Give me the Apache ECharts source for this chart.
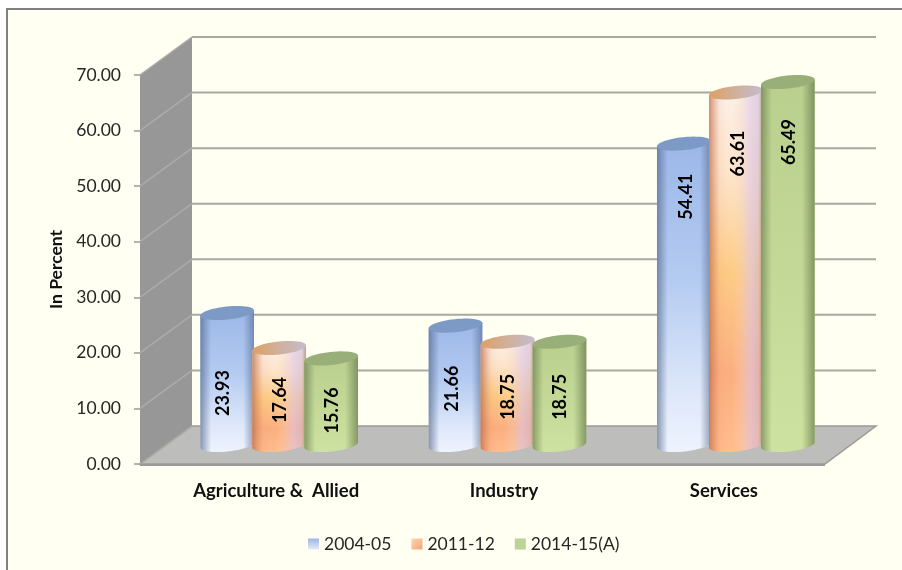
<!DOCTYPE html>
<html>
<head>
<meta charset="utf-8">
<style>html,body{margin:0;padding:0;background:#fff;overflow:hidden}#c{width:902px;height:570px}</style>
<script src="https://cdn.jsdelivr.net/npm/echarts@6/dist/echarts.min.js"></script>
</head>
<body>
<div id="c"></div>
<script>
const categories = ['Agriculture &  Allied', 'Industry', 'Services'];
const seriesNames = ['2004-05', '2011-12', '2014-15(A)'];
const values2004 = [23.93, 21.66, 54.41];
const values2011 = [17.64, 18.75, 63.61];
const values2015 = [15.76, 18.75, 65.49];
const yTicks = [0, 10, 20, 30, 40, 50, 60, 70];

// Styling of the pseudo-3D scene
const FONT = 'Lato, "Open Sans", sans-serif';
const DEPTH_X = 52, DEPTH_Y = 38, BAR_STEP = 52, RX = 27, RY = 6.5, TILT = -6 * Math.PI / 180;
const labelDrop = [[80, 63, 53], [52, 55, 61], [52, 55, 60]];
const labelShiftX = [[-4, -3, 2], [1, 1, 2], [1, 1, 1]];
const G = (x, y, x2, y2, stops) => new echarts.graphic.LinearGradient(x, y, x2, y2, stops.map(c => ({offset: c[0], color: c[1]})));
const looks = [
  { body: () => G(0, 0, 0, 1, [[0, '#9CB7E8'], [0.45, '#B4CBF1'], [0.8, '#DDE7FA'], [1, '#EEF3FD']]),
    shade: () => G(0, 0, 1, 0, [[0, 'rgba(75,95,130,0.62)'], [0.2, 'rgba(75,95,130,0)'], [0.8, 'rgba(75,95,130,0)'], [1, 'rgba(75,95,130,0.55)']]),
    top: () => '#7D9AC7',
    swatch: () => G(0, 0, 0, 1, [[0, '#9DB6E4'], [1, '#E3EAF8']]) },
  { body: () => G(0, 0, 0, 1, [[0, '#FDF1EA'], [0.25, '#FDE3C8'], [0.5, '#FDCB85'], [0.78, '#FBAE80'], [1, '#FFBC8C']]),
    shade: () => G(0, 0, 1, 0, [[0, 'rgba(185,105,70,0.72)'], [0.2, 'rgba(220,130,90,0.08)'], [0.42, 'rgba(255,220,170,0)'], [0.78, 'rgba(218,196,238,0.6)'], [0.92, 'rgba(205,185,210,0.55)'], [1, 'rgba(165,130,105,0.75)']]),
    top: () => G(0, 0, 1, 0, [[0, '#DDA066'], [0.5, '#D0B09C'], [1, '#C4BCCC']]),
    swatch: () => G(0, 0, 1, 1, [[0, '#FBD6B8'], [1, '#F3A470']]) },
  { body: () => G(0, 0, 0, 1, [[0, '#B9CF8E'], [0.5, '#C3D897'], [1, '#CDE2A0']]),
    shade: () => G(0, 0, 1, 0, [[0, 'rgba(95,115,70,0.62)'], [0.2, 'rgba(95,115,70,0)'], [0.76, 'rgba(95,115,70,0)'], [1, 'rgba(95,115,70,0.65)']]),
    top: () => '#99AF79',
    swatch: () => '#BDD397' }
];

function ellipse(cx, cy, from, to, n) {
  const pts = [];
  for (let i = 0; i <= n; i++) {
    const t = from + (to - from) * i / n;
    const ex = RX * Math.cos(t), ey = RY * Math.sin(t);
    pts.push([cx + ex * Math.cos(TILT) - ey * Math.sin(TILT), cy + ex * Math.sin(TILT) + ey * Math.cos(TILT)]);
  }
  return pts;
}

function renderBar(seriesIndex) {
  return function (params, api) {
    const idx = api.value(0), val = api.value(1);
    const base = api.coord([idx, 0]);
    const top = api.coord([idx, val]);
    const cx = base[0] + DEPTH_X / 2 - 1 + (seriesIndex - 1) * BAR_STEP;
    const yBase = base[1] - DEPTH_Y / 2;
    const yTop = top[1] - DEPTH_Y / 2 + 1;
    const topRing = ellipse(cx, yTop, Math.PI, 0, 1);
    const body = [topRing[0]].concat(ellipse(cx, yBase, Math.PI, 0, 32)).concat([topRing[1]]);
    const look = looks[seriesIndex];
    return {
      type: 'group',
      children: [
        { type: 'polygon', shape: { points: body }, style: { fill: look.body() } },
        { type: 'polygon', shape: { points: body }, style: { fill: look.shade() } },
        { type: 'polygon', shape: { points: ellipse(cx, yTop, 0, Math.PI * 2, 48) }, style: { fill: look.top() } },
        { type: 'text', x: cx + labelShiftX[seriesIndex][idx], y: yTop + labelDrop[seriesIndex][idx], rotation: Math.PI / 2,
          style: { text: val.toFixed(2), font: 'bold 18px ' + FONT, fill: '#000', align: 'center', verticalAlign: 'middle' } }
      ]
    };
  };
}

function renderScene(params, api) {
  const cs = params.coordSys;
  const left = cs.x, right = cs.x + cs.width;
  const y0 = api.coord([0, 0])[1];
  const yMax = api.coord([0, yTicks[yTicks.length - 1]])[1];
  const children = [
    { type: 'polygon', shape: { points: [[left, y0], [left, yMax], [left + DEPTH_X, yMax - DEPTH_Y], [left + DEPTH_X, y0 - DEPTH_Y]] },
      style: { fill: '#979797' } },
    { type: 'polygon', shape: { points: [[left, y0], [right, y0], [right + DEPTH_X - 1, y0 - DEPTH_Y], [left + DEPTH_X, y0 - DEPTH_Y]] },
      style: { fill: '#BDBDBB', stroke: '#9A9A96', lineWidth: 1.5 } },
    { type: 'line', shape: { x1: left, y1: y0 + 1, x2: right, y2: y0 + 1 }, style: { stroke: '#9A9A96', lineWidth: 2 } }
  ];
  yTicks.forEach(function (t) {
    const y = api.coord([0, t])[1];
    if (t > 0) {
      children.push({ type: 'line', shape: { x1: left + DEPTH_X, y1: y - DEPTH_Y, x2: right + DEPTH_X - 1, y2: y - DEPTH_Y },
        style: { stroke: '#A9A99F', lineWidth: 2 } });
    }
    children.push({ type: 'line', shape: { x1: left, y1: y, x2: left + DEPTH_X, y2: y - DEPTH_Y },
      style: { stroke: '#ABABAB', lineWidth: 1.5 } });
  });
  return { type: 'group', children: children };
}

const toPairs = arr => arr.map((v, i) => [i, v]);
const allValues = [values2004, values2011, values2015];

const chart = echarts.init(document.getElementById('c'), null, { renderer: 'canvas' });
chart.setOption({
  animation: false,
  backgroundColor: '#ffffff',
  textStyle: { fontFamily: FONT },
  graphic: [{ type: 'rect', z: -10, silent: true, shape: { x: 7, y: 9, width: 960, height: 620 },
    style: { fill: '#FFFFF2', stroke: '#808080', lineWidth: 2 } }],
  grid: { left: 140, top: 75, width: 685, height: 389 },
  legend: {
    left: 303, top: 530, itemWidth: 11, itemHeight: 11, itemGap: 20, icon: 'rect',
    textStyle: { fontFamily: FONT, fontSize: 17.5, color: '#262626' },
    data: seriesNames.map((n, i) => ({ name: n, itemStyle: { color: looks[i].swatch() } }))
  },
  xAxis: {
    type: 'category', data: categories,
    axisLine: { show: false }, axisTick: { show: false },
    axisLabel: {
      margin: 18, interval: 0,
      formatter: function (v, i) { return '{c' + i + '|' + v + '}'; },
      rich: {
        c0: { fontFamily: FONT, fontWeight: 'bold', fontSize: 18.5, color: '#111', padding: [0, 0, 0, 44] },
        c1: { fontFamily: FONT, fontWeight: 'bold', fontSize: 18.5, color: '#111', padding: [0, 0, 0, 43] },
        c2: { fontFamily: FONT, fontWeight: 'bold', fontSize: 18.5, color: '#111', padding: [0, 0, 0, 26] }
      }
    }
  },
  yAxis: {
    type: 'value', min: 0, max: 70, interval: 10,
    name: 'In Percent', nameLocation: 'middle', nameGap: 69, nameRotate: 90,
    nameTextStyle: { fontFamily: FONT, fontWeight: 'bold', fontSize: 17.5, color: '#111' },
    axisLine: { show: false },
    axisTick: { show: true, length: 6, lineStyle: { color: '#9A9A9A', width: 1.5 } },
    splitLine: { show: false },
    axisLabel: { margin: 19, padding: [2, 0, 0, 0], fontFamily: FONT, fontSize: 17.5, color: '#262626', formatter: v => v.toFixed(2) }
  },
  series: [
    { name: 'scene', type: 'custom', renderItem: renderScene, data: [[0, 0]], silent: true, z: 1, encode: { x: 0, y: 1 } }
  ].concat(seriesNames.map((n, i) => ({
    name: n, type: 'custom', renderItem: renderBar(i), data: toPairs(allValues[i]), z: 2 + i, encode: { x: 0, y: 1 }
  })))
});
</script>
</body>
</html>
